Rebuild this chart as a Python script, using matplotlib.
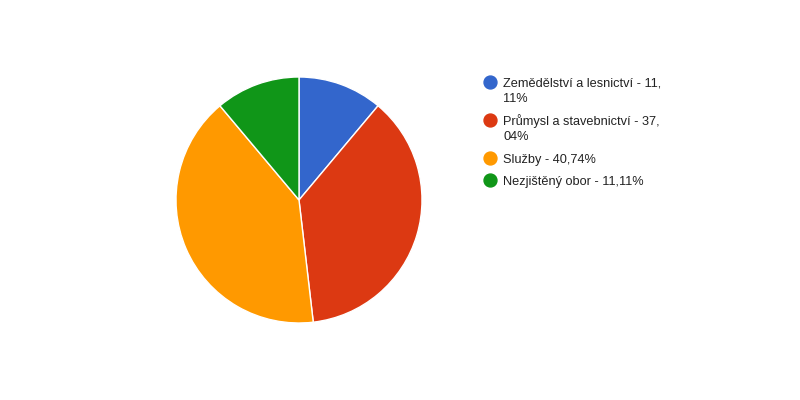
import matplotlib
matplotlib.use("Agg")
import matplotlib.pyplot as plt

# data
categories = ["Zemědělství a lesnictví", "Průmysl a stavebnictví", "Služby", "Nezjištěný obor"]
values = [11.11, 37.04, 40.74, 11.11]
value_labels = ["11,\n11%", "37,\n04%", "40,74%", "11,11%"]
colors = ["#3366cc", "#dc3912", "#ff9900", "#109618"]

plt.rcParams["font.family"] = ["Liberation Sans", "DejaVu Sans"]

fig = plt.figure(figsize=(8, 4), dpi=100)
fig.patch.set_facecolor("white")

# pie
ax = fig.add_axes([0.22, 0.1925, 0.3075, 0.615])
ax.pie(values, colors=colors, startangle=90, counterclock=False,
       wedgeprops=dict(edgecolor="white", linewidth=1))
ax.set_xlim(-1, 1)
ax.set_ylim(-1, 1)
ax.set_aspect("equal")

# legend, drawn in pixel coordinates
lax = fig.add_axes([0, 0, 1, 1])
lax.set_xlim(0, 800)
lax.set_ylim(400, 0)
lax.axis("off")
ys = [82, 120, 158, 180]
for name, lab, col, y in zip(categories, value_labels, colors, ys):
    lax.plot(490, y, "o", color=col, markersize=9.3)
    lines = f"{name} - {lab}".split("\n")
    for i, line in enumerate(lines):
        lax.text(503, y + 4.5 + 16 * i, line, fontsize=9.2, color="#222222",
                 va="baseline", ha="left")

fig.savefig("out.png", dpi=100)
